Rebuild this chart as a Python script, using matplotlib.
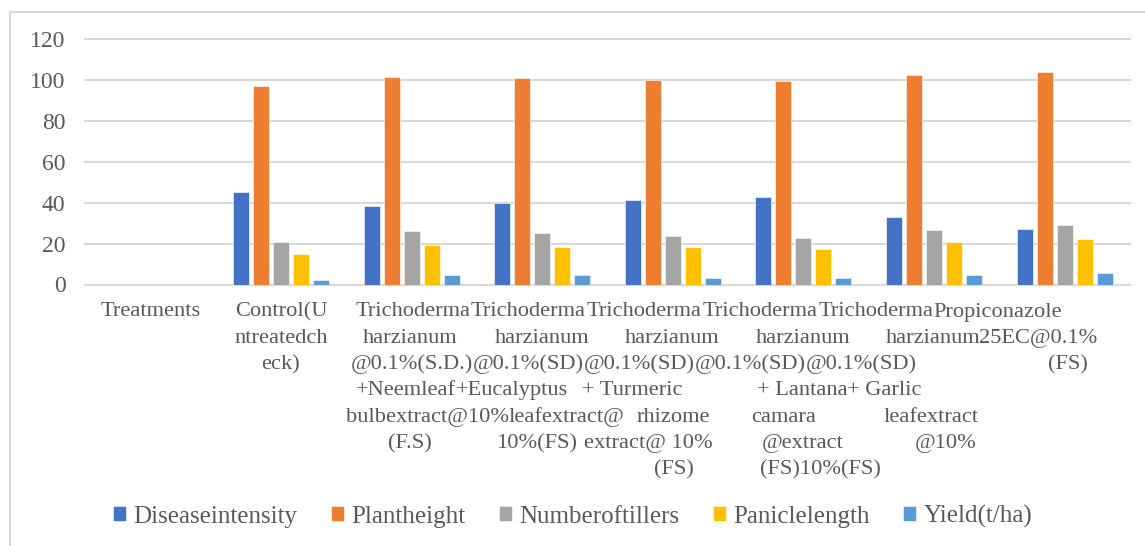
import matplotlib
matplotlib.use("Agg")
import matplotlib.pyplot as plt
from matplotlib.transforms import blended_transform_factory, offset_copy
from matplotlib.lines import Line2D
from matplotlib.font_manager import FontProperties

# ---------------- data ----------------
categories = [
    "Treatments",
    "Control(U\nntreatedch\neck)",
    "Trichoderma\nharzianum\n@0.1%(S.D.)\n+Neemleaf\nbulbextract@10%\n(F.S)",
    "Trichoderma\nharzianum\n@0.1%(SD)\n+Eucalyptus\nleafextract@\n10%(FS)",
    "Trichoderma\nharzianum\n@0.1%(SD)\n+ Turmeric\nrhizome\nextract@ 10%\n(FS)",
    "Trichoderma\nharzianum\n@0.1%(SD)\n+ Lantana\ncamara\n@extract\n(FS)10%(FS)",
    "Trichoderma\nharzianum\n@0.1%(SD)\n+ Garlic\nleafextract\n@10%",
    "Propiconazole\n25EC@0.1%\n(FS)",
]
series_names = ["Diseaseintensity", "Plantheight", "Numberoftillers",
                "Paniclelength", "Yield(t/ha)"]
disease_intensity = [None, 45.4, 38.2, 40.0, 41.5, 42.9, 33.1, 27.2]
plant_height      = [None, 97.2, 101.6, 101.1, 100.0, 99.5, 102.4, 103.9]
number_of_tillers = [None, 21.0, 26.1, 25.1, 23.8, 22.9, 26.7, 29.2]
panicle_length    = [None, 14.8, 19.5, 18.5, 18.2, 17.5, 20.8, 22.4]
yield_t_ha        = [None, 2.0, 4.7, 4.5, 3.2, 3.2, 4.7, 5.7]
y_ticks = [0, 20, 40, 60, 80, 100, 120]

series_values = [disease_intensity, plant_height, number_of_tillers,
                 panicle_length, yield_t_ha]

# ---------------- style / layout ----------------
colors = ["#4472C4", "#ED7D31", "#A5A5A5", "#FFC000", "#5B9BD5"]
text_color = "#595959"
grid_color = "#D9D9D9"
font = "Liberation Serif"
plt.rcParams["font.family"] = [font, "DejaVu Serif"]

W, H = 1145, 546
fig = plt.figure(figsize=(W / 100, H / 100), dpi=100)
ax_left, ax_right, ax_bottom, ax_top = 85, 1130, 284.5, 39.3
ax = fig.add_axes([ax_left / W, (H - ax_bottom) / H,
                   (ax_right - ax_left) / W, (ax_bottom - ax_top) / H])

n_cat = len(categories)
cat_px = (ax_right - ax_left) / n_cat
bar_w = 16 / cat_px
step = 20 / cat_px

for j, (name, vals) in enumerate(zip(series_names, series_values)):
    xs = [i + (j - 2) * step for i, v in enumerate(vals) if v is not None]
    hs = [v for v in vals if v is not None]
    ax.bar(xs, hs, width=bar_w, color=colors[j], label=name,
           edgecolor="white", linewidth=0.4, zorder=3)

ax.set_xlim(-0.5, n_cat - 0.5)
ax.set_ylim(y_ticks[0], y_ticks[-1])
ax.set_yticks(y_ticks)
ax.set_yticklabels([str(v) for v in y_ticks], fontfamily=font, fontsize=17,
                   color=text_color)
ax.yaxis.grid(True, color=grid_color, linewidth=1.5)
for gl in ax.get_ygridlines():
    gl.set_clip_on(False)
ax.set_axisbelow(True)
for s in ax.spines.values():
    s.set_visible(False)
ax.tick_params(axis="y", length=0, pad=14)
ax.set_xticks(range(n_cat))
ax.set_xticklabels([""] * n_cat)
ax.tick_params(axis="x", length=0)

# category labels, line by line (Excel wrapped-text placement, offsets in px)
row_offsets_px = [
    [0],
    [0, 0, 0],
    [1.3, -1.5, 0.2, -5.6, 16.4, -1.5],
    [-13.6, 0, -13.9, -30.3, 24.6, -4.6],
    [-28.5, -0.7, -33.7, -40.9, 0.3, -24.7, 1.3],
    [-43.4, -0.3, -53.3, -1.4, -20.3, -0.8, 16.7],
    [-58.3, -1.4, -72.9, -49.7, -3, 12],
    [-67.1, -27, 3],
]
first_baseline_px = 316.5 - ax_bottom
line_pitch_px = 26.3
blend = blended_transform_factory(ax.transData, ax.transAxes)
for i, lab in enumerate(categories):
    for k, line in enumerate(lab.split("\n")):
        tr = offset_copy(blend, fig=fig, x=row_offsets_px[i][k],
                         y=-(first_baseline_px + k * line_pitch_px), units="dots")
        ax.text(i, 0, line, transform=tr, ha="center", va="baseline",
                fontfamily=font, fontsize=16.1, color=text_color, clip_on=False)

leg = fig.legend(loc="center", bbox_to_anchor=(0.5, (H - 516.5) / H),
                 ncol=5, frameon=False,
                 prop=FontProperties(family=font, size=18),
                 handlelength=0.52, handleheight=0.52, handletextpad=0.3,
                 columnspacing=1.34, borderpad=0)
for t in leg.get_texts():
    t.set_color(text_color)

# chart area border (only left and top visible in the crop)
bx, by = 10 / W, (H - 12) / H
fig.add_artist(Line2D([bx, bx], [0, by], color=grid_color, linewidth=1.5,
                      transform=fig.transFigure))
fig.add_artist(Line2D([bx, 1], [by, by], color=grid_color, linewidth=1.5,
                      transform=fig.transFigure))

fig.savefig("out.png", dpi=100)
